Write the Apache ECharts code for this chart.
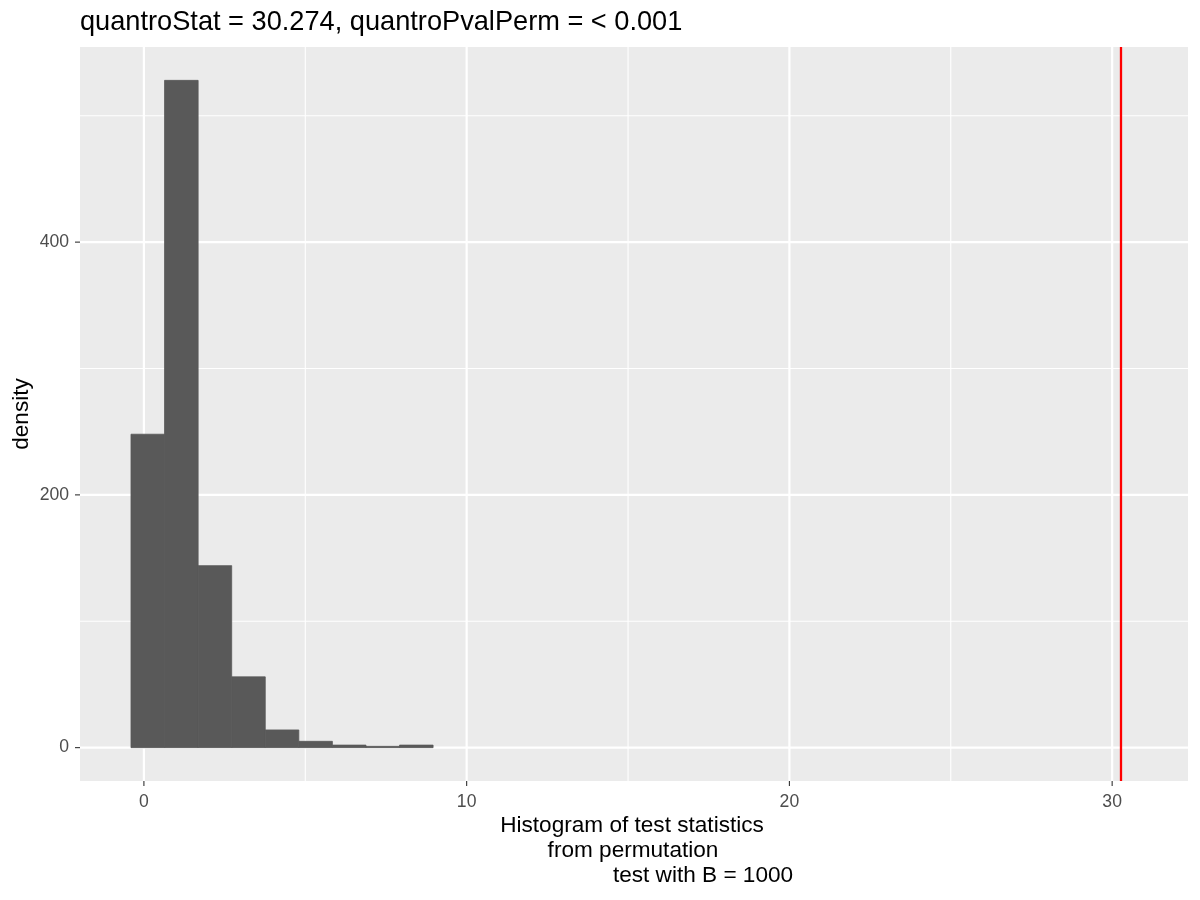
<!DOCTYPE html>
<html>
<head>
<meta charset="utf-8">
<title>quantro permutation histogram</title>
<script src="https://cdn.jsdelivr.net/npm/echarts@6/dist/echarts.min.js"></script>
<style>
    html, body { margin: 0; padding: 0; background: #ffffff; }
    #main { width: 1200px; height: 900px; }
</style>
</head>
<body>
<div id="main"></div>
<script>
    // histogram bins (x = test statistic, y = height)
    var binStart = [-0.40, 0.64, 1.68, 2.72, 3.76, 4.80, 5.84, 6.88, 7.92];
    var binEnd = [0.64, 1.68, 2.72, 3.76, 4.80, 5.84, 6.88, 7.92, 8.96];
    var binHeight = [248, 528, 144, 56, 14, 5, 2, 1, 2];

    // observed statistic (red line)
    var quantroStat = 30.274;

    // ticks and grid lines
    var xTicks = [0, 10, 20, 30];
    var xMinor = [5, 15, 25];
    var yTicks = [0, 200, 400];
    var yMinor = [100, 300, 500];

    var titleText = 'quantroStat = 30.274, quantroPvalPerm = < 0.001';
    var xTitleLines = ['Histogram of test statistics', 'from permutation', 'test with B = 1000'];
    var yTitle = 'density';

    var FONT = '"Liberation Sans", Arial, sans-serif';

    var chart = echarts.init(document.getElementById('main'), null, {renderer: 'canvas'});

    var bars = [];
    for (var i = 0; i < binStart.length; i++) {
        bars.push([binStart[i], binEnd[i], binHeight[i]]);
    }

    // full-height / full-width lines inside the panel (grid lines, red line)
    function vLines(values, width, color, z) {
        return {
            type: 'custom',
            silent: true,
            z: z,
            data: values.map(function (v) { return [v]; }),
            renderItem: function (params, api) {
                var cs = params.coordSys;
                var x = api.coord([api.value(0), 0])[0];
                return {
                    type: 'line',
                    shape: {x1: x, y1: cs.y, x2: x, y2: cs.y + cs.height},
                    style: {stroke: color, lineWidth: width}
                };
            }
        };
    }

    function hLines(values, width, color, z) {
        return {
            type: 'custom',
            silent: true,
            z: z,
            data: values.map(function (v) { return [0, v]; }),
            renderItem: function (params, api) {
                var cs = params.coordSys;
                var y = api.coord([0, api.value(1)])[1];
                return {
                    type: 'line',
                    shape: {x1: cs.x, y1: y, x2: cs.x + cs.width, y2: y},
                    style: {stroke: color, lineWidth: width}
                };
            }
        };
    }

    // small tick marks just outside the panel
    function xTickMarks(values) {
        return {
            type: 'custom', silent: true, clip: false, z: 5,
            data: values.map(function (v) { return [v]; }),
            renderItem: function (params, api) {
                var cs = params.coordSys;
                var x = api.coord([api.value(0), 0])[0];
                var y = cs.y + cs.height;
                return {
                    type: 'line',
                    shape: {x1: x, y1: y, x2: x, y2: y + 5},
                    style: {stroke: '#333333', lineWidth: 1.1}
                };
            }
        };
    }

    function yTickMarks(values) {
        return {
            type: 'custom', silent: true, clip: false, z: 5,
            data: values.map(function (v) { return [0, v]; }),
            renderItem: function (params, api) {
                var cs = params.coordSys;
                var y = api.coord([0, api.value(1)])[1];
                return {
                    type: 'line',
                    shape: {x1: cs.x - 5, y1: y, x2: cs.x, y2: y},
                    style: {stroke: '#333333', lineWidth: 1.1}
                };
            }
        };
    }

    var option = {
        animation: false,
        backgroundColor: '#ffffff',
        grid: {
            left: 80, right: 12, top: 47, bottom: 119,
            show: true, backgroundColor: '#EBEBEB', borderWidth: 0
        },
        xAxis: {
            type: 'value',
            min: -1.98, max: 32.35,
            axisLine: {show: false},
            splitLine: {show: false},
            axisTick: {show: false},
            axisLabel: {
                customValues: xTicks, margin: 12,
                color: '#4D4D4D', fontSize: 17.6, fontFamily: FONT
            }
        },
        yAxis: {
            type: 'value',
            min: -26.4, max: 554.4,
            axisLine: {show: false},
            splitLine: {show: false},
            axisTick: {show: false},
            axisLabel: {
                customValues: yTicks, margin: 11,
                color: '#4D4D4D', fontSize: 17.6, fontFamily: FONT,
                padding: [4, 0, 0, 0]
            }
        },
        graphic: [
            {
                type: 'text', left: 80, top: 9,
                style: {text: titleText, fill: '#000000', font: '27.2px ' + FONT}
            },
            {
                type: 'text', x: 632, y: 826,
                style: {text: xTitleLines[0], fill: '#000000', font: '22.6px ' + FONT, align: 'center', verticalAlign: 'middle'}
            },
            {
                type: 'text', x: 633, y: 851,
                style: {text: xTitleLines[1], fill: '#000000', font: '22.6px ' + FONT, align: 'center', verticalAlign: 'middle'}
            },
            {
                type: 'text', x: 703, y: 876,
                style: {text: xTitleLines[2], fill: '#000000', font: '22.6px ' + FONT, align: 'center', verticalAlign: 'middle'}
            },
            {
                type: 'text', x: 22, y: 414, rotation: Math.PI / 2,
                style: {text: yTitle, fill: '#000000', font: '22.6px ' + FONT, align: 'center', verticalAlign: 'middle'}
            }
        ],
        series: [
            vLines(xMinor, 1.1, '#ffffff', 1),
            hLines(yMinor, 1.1, '#ffffff', 1),
            vLines(xTicks, 2.2, '#ffffff', 2),
            hLines(yTicks, 2.2, '#ffffff', 2),
            {
                type: 'custom',
                name: 'histogram',
                z: 3,
                data: bars,
                renderItem: function (params, api) {
                    var p0 = api.coord([api.value(0), api.value(2)]);
                    var p1 = api.coord([api.value(1), 0]);
                    return {
                        type: 'rect',
                        shape: {x: p0[0], y: p0[1], width: p1[0] - p0[0], height: p1[1] - p0[1]},
                        style: {fill: '#595959', stroke: '#595959', lineWidth: 0.8}
                    };
                }
            },
            vLines([quantroStat], 2.3, '#FF0000', 4),
            xTickMarks(xTicks),
            yTickMarks(yTicks)
        ]
    };

    option && chart.setOption(option);
</script>
</body>
</html>
